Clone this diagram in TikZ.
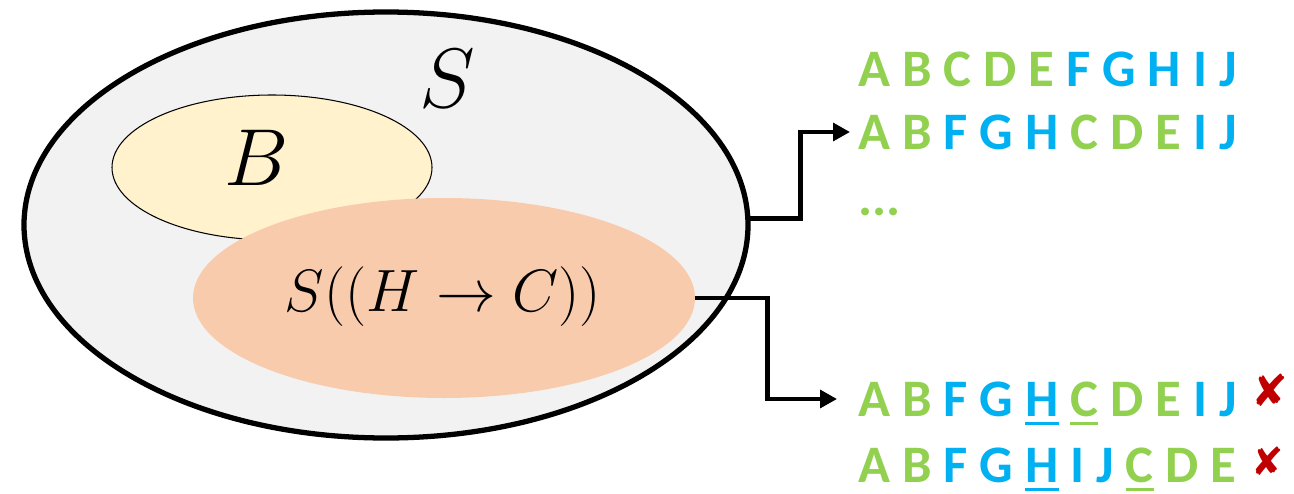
\RequirePackage{fix-cm}
\documentclass[tikz,border=0pt]{standalone}
\usepackage{fontspec}
\usepackage{xcolor}
\usetikzlibrary{shapes.geometric, arrows.meta}
\newfontfamily\calib{Carlito}
\newfontfamily\djv{DejaVu Sans}
\definecolor{setgray}{HTML}{F2F2F2}
\definecolor{setyellow}{HTML}{FFF2CC}
\definecolor{setpeach}{HTML}{F8CBAD}
\definecolor{lgreen}{HTML}{92D050}
\definecolor{lblue}{HTML}{00B0F0}
\definecolor{xred}{HTML}{C00000}
\newcommand{\gn}[1]{\textcolor{lgreen}{#1}}
\newcommand{\bu}[1]{\textcolor{lblue}{#1}}
\newcommand{\ulet}[1]{\setbox0\hbox{#1}\rlap{\smash{\raisebox{-5pt}{\rule{\wd0}{1.8pt}}}}\box0\relax}

\begin{document}
\begin{tikzpicture}[
    row/.style={anchor=west, inner sep=0pt, text depth=0pt, font={\calib\bfseries\fontsize{30}{36}\selectfont}},
    conn/.style={line width=2.8pt, -{Triangle[length=9.6pt,width=10pt]}},
    cross/.style={inner sep=0pt, text=xred, font={\djv\fontsize{#1}{#1}\selectfont}}
]
    \useasboundingbox (0,0) rectangle (25.88,9.86);

    % the sets
    \node[ellipse, draw, line width=3pt, fill=setgray, minimum width=14.48cm, minimum height=8.52cm, inner sep=0pt] (S) at (7.72,5.36) {};
    \node[ellipse, draw, line width=0.6pt, fill=setyellow, minimum width=6.4cm, minimum height=2.9cm, inner sep=0pt] (B) at (5.44,6.51) {};
    \node[ellipse, fill=setpeach, minimum width=10.04cm, minimum height=4cm, inner sep=0pt] (P) at (8.88,3.90) {};

    \node[font=\fontsize{48}{52}\selectfont] (lS) at (8.94,8.28) {$S$};
    \node[font=\fontsize{46}{50}\selectfont] (lB) at (5.14,6.70) {$B$};
    \node[font=\fontsize{34}{38}\selectfont] (lP) at (8.86,3.92) {$S((H \rightarrow C))$};

    % orderings
    \node[row] (r1) at (17.16,8.48) {\gn{A B C D E} \bu{F G H I J}};
    \node[row] (r2) at (17.16,7.22) {\gn{A B} \bu{F G H} \gn{C D E} \bu{I J}};
    \node[row, anchor=base west] (dots) at (17.16,5.56) {\gn{...}};
    \node[row] (r3) at (17.16,1.88) {\gn{A B} \bu{F G \ulet{H}} \gn{\ulet{C} D E} \bu{I J}};
    \node[row] (r4) at (17.16,0.56) {\gn{A B} \bu{F G \ulet{H} I J} \gn{\ulet{C} D E}};

    \node[cross=25] (x3) at (25.40,2.06) {✘};
    \node[cross=22] (x4) at (25.36,0.63) {✘};

    % connectors
    \draw[conn, shorten >=0.16cm] (S.1) -- ++(1.0,0) |- (r2.west);
    \draw[conn, shorten >=0.42cm] (P.east) -- ++(1.44,0) |- (r3.west);
\end{tikzpicture}
\end{document}
